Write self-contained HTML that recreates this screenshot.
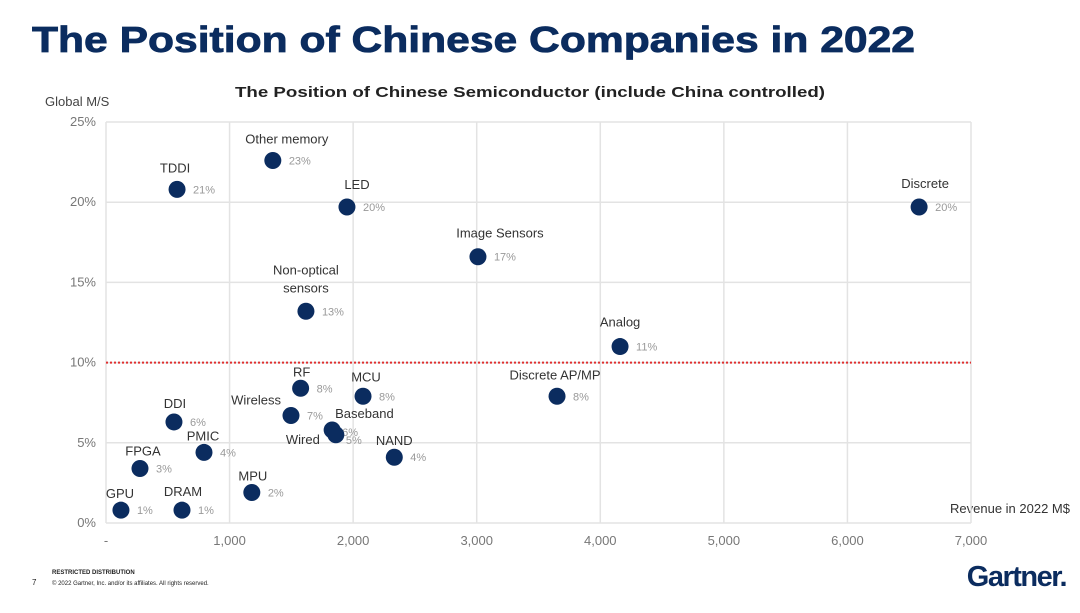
<!DOCTYPE html>
<html><head><meta charset="utf-8">
<style>
html,body{margin:0;padding:0;background:#fff;}
svg{display:block;font-family:"Liberation Sans",Arial,sans-serif;}
</style></head>
<body>
<svg id="chart" width="1080" height="613" viewBox="0 0 1080 613" xmlns="http://www.w3.org/2000/svg">
<text x="32" y="52" font-size="36" font-weight="bold" fill="#0b2c5f" textLength="883" lengthAdjust="spacingAndGlyphs" stroke="#0b2c5f" stroke-width="0.8">The Position of Chinese Companies in 2022</text>
<text x="530" y="97" font-size="15" font-weight="bold" fill="#222" text-anchor="middle" textLength="590" lengthAdjust="spacingAndGlyphs">The Position of Chinese Semiconductor (include China controlled)</text>
<text x="45" y="106" font-size="13" fill="#444">Global M/S</text>
<text x="1070" y="513" font-size="13" fill="#333" text-anchor="end">Revenue in 2022 M$</text>
<g id="grid"></g>
<g id="marks"></g>
<text x="52" y="574" font-size="6" font-weight="bold" fill="#222">RESTRICTED DISTRIBUTION</text>
<text x="32" y="585" font-size="8" fill="#222">7</text>
<text x="52" y="585" font-size="6" fill="#222">© 2022 Gartner, Inc. and/or its affiliates. All rights reserved.</text>
<text x="1066" y="586" font-size="29" font-weight="bold" fill="#0b2c5f" text-anchor="end" letter-spacing="-1.5">Gartner.</text>
</svg>
<script>
const xTicks = [0,1000,2000,3000,4000,5000,6000,7000];
const xTickLabels = ["-","1,000","2,000","3,000","4,000","5,000","6,000","7,000"];
const yTicks = [0,5,10,15,20,25];
const yTickLabels = ["0%","5%","10%","15%","20%","25%"];
const threshold = 10;
const names = ["TDDI","Other memory","LED","Image Sensors","Non-optical|sensors","RF","MCU","Wireless","Baseband","Wired","NAND","DDI","PMIC","FPGA","MPU","GPU","DRAM","Discrete AP/MP","Analog","Discrete"];
const revenue = [575,1350,1950,3010,1618,1575,2080,1497,1830,1860,2333,550,793,275,1180,121,615,3650,4160,6580];
const share = [20.8,22.6,19.7,16.6,13.2,8.4,7.9,6.7,5.8,5.5,4.1,6.3,4.4,3.4,1.9,0.8,0.8,7.9,11.0,19.7];
const shareLabels = ["21%","23%","20%","17%","13%","8%","8%","7%","6%","5%","4%","6%","4%","3%","2%","1%","1%","8%","11%","20%"];
// label layout offsets [nameDx, nameDy, anchor, pctDx, pctDy]
const layout = [[-2,-17,"middle",16,4],[14,-17,"middle",16,4],[10,-18,"middle",16,4],[22,-19,"middle",16,4],[0,-37,"middle",16,4],[1,-12,"middle",16,4],[3,-15,"middle",16,4],[-10,-11,"end",16,4],[3,-12,"start",10,6],[-16,9,"end",10,9],[0,-12,"middle",16,4],[1,-14,"middle",16,4],[-1,-12,"middle",16,4],[3,-13,"middle",16,4],[1,-12,"middle",16,4],[-1,-12,"middle",16,4],[1,-14,"middle",16,4],[-2,-17,"middle",16,4],[0,-20,"middle",16,4],[6,-19,"middle",16,4]];
const X0=106, X1=971, Y0=523, Y1=122;
const xs = v => X0 + (v - 0) / 7000 * (X1 - X0);
const ys = v => Y0 - v / 25 * (Y0 - Y1);
const NS="http://www.w3.org/2000/svg";
function mk(tag, attrs, parent){const e=document.createElementNS(NS,tag);for(const k in attrs)e.setAttribute(k,attrs[k]);parent.appendChild(e);return e;}
const grid=document.getElementById('grid'), marks=document.getElementById('marks');
xTicks.forEach((t,i)=>{
  const l=mk('line',{x1:xs(t),x2:xs(t),y1:Y1,y2:Y0,stroke:'#e3e3e3','stroke-width':1.5},grid);
  
  
  const tx=mk('text',{x:xs(t),y:Y0+22,'font-size':13,fill:'#777','text-anchor':'middle'},grid);
  tx.textContent=xTickLabels[i];
  
  
});
yTicks.forEach((t,i)=>{
  const l=mk('line',{x1:X0,x2:X1,y1:ys(t),y2:ys(t),stroke:'#e3e3e3','stroke-width':1.5},grid);
  
  
  const tx=mk('text',{x:96,y:ys(t)+4,'font-size':13,fill:'#777','text-anchor':'end'},grid);
  tx.textContent=yTickLabels[i];
  
  
});
const th=mk('line',{x1:X0,x2:X1,y1:ys(threshold),y2:ys(threshold),stroke:'#e03030','stroke-width':2,'stroke-dasharray':'2,2'},grid);


names.forEach((n,i)=>{
  const cx=xs(revenue[i]), cy=ys(share[i]), L=layout[i];
  const c=mk('circle',{cx:cx,cy:cy,r:8.5,fill:'#0b2c5f'},marks);
  
  
  const parts=n.split('|');
  parts.forEach((p,j)=>{
    const t=mk('text',{x:cx+L[0],y:cy+L[1]+j*18,'font-size':13,fill:'#333','text-anchor':L[2]},marks);
    t.textContent=p;
    
    
  });
  const pt=mk('text',{x:cx+L[3],y:cy+L[4],'font-size':11,fill:'#999'},marks);
  pt.textContent=shareLabels[i];
  
  
});
</script>
</body></html>
